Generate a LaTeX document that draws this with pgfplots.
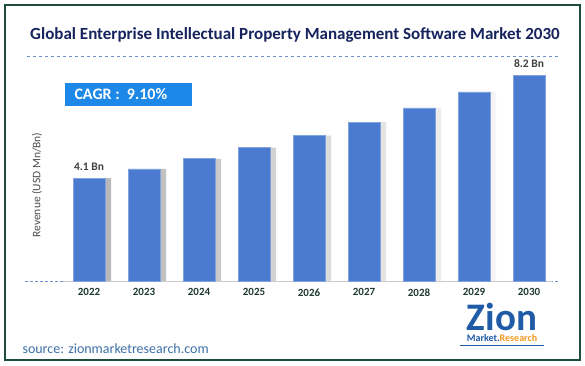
\documentclass[border=0pt]{standalone}
\usepackage{pgfplots}
\pgfplotsset{compat=1.18}
\usepackage{pgfplotstable}
\usepackage{fontspec}
\setmainfont{Carlito}
\definecolor{barblue}{HTML}{4A7BD0}
\definecolor{titlenavy}{HTML}{16235C}
\definecolor{yeargreen}{HTML}{1E3B2E}
\definecolor{framegreen}{HTML}{1F4D3A}
\definecolor{cagrblue}{HTML}{1E88E8}
\definecolor{dashblue}{HTML}{6F90D0}
\definecolor{srcblue}{HTML}{3C6FA8}
\definecolor{zionblue}{HTML}{1F5BA6}
\definecolor{zionorange}{HTML}{F39A1E}
\pgfplotstableread{
x year value
0 2022 4.10
1 2023 4.47
2 2024 4.87
3 2025 5.31
4 2026 5.79
5 2027 6.33
6 2028 6.90
7 2029 7.53
8 2030 8.20
}\revdata
\begin{document}
\begin{tikzpicture}[x=1pt,y=1pt]
\useasboundingbox (0,0) rectangle (585,365);
\fill[white] (0,0) rectangle (585,365);
\draw[framegreen, line width=1.4pt] (5,5) rectangle (580,360);
% title
\node[font=\fontsize{17}{20}\selectfont\bfseries, text=titlenavy] at (295,330) {Global Enterprise Intellectual Property Management Software Market 2030};
\draw[dashblue, dashed, line width=0.8pt] (27,309) -- (558,309);
% CAGR box
\fill[cagrblue] (65,259) rectangle (192,282);
\node[font=\fontsize{16}{18}\selectfont\bfseries, text=white, anchor=west] at (71,270.5) {CAGR :\ \ 9.10\%};
\begin{axis}[
  anchor=south west, at={(25pt,84pt)},
  x=55pt, y=25.1pt,
  xmin=-1.164, xmax=8.527, ymin=0, ymax=9.3,
  axis y line=none,
  axis x line*=bottom,
  x axis line style={draw=dashblue, dash pattern=on 3pt off 2pt, line width=0.8pt, -},
  xtick=data, xticklabels={2022,2023,2024,2025,2026,2027,2028,2029,2030},
  xtick style={draw=none},
  xticklabel style={font=\fontsize{11}{12}\selectfont\bfseries, text=yeargreen, yshift=-4pt},
  clip=false,
]
\addplot[ybar, bar width=7pt, bar shift=18.5pt, draw=none, left color=black!35, right color=white, opacity=0.8] table[x=x, y=value] {\revdata};
\draw[black!20, line width=0.8pt] (axis cs:-0.47,0) -- (axis cs:8.42,0);
\addplot[ybar, bar width=32pt, fill=barblue, draw=barblue!70!white, line width=0.6pt] table[x=x, y=value] {\revdata};
\node[font=\fontsize{11.5}{13}\selectfont\bfseries, text=black!75, anchor=south] at (axis cs:0,4.1) [yshift=4pt] {4.1 Bn};
\node[font=\fontsize{11.5}{13}\selectfont\bfseries, text=black!75, anchor=south] at (axis cs:8,8.2) [yshift=4pt] {8.2 Bn};
\node[rotate=90, font=\fontsize{11.5}{12}\selectfont, text=black!70] at (axis cs:-0.945,3.82) {Revenue (USD Mn/Bn)};
\end{axis}
% source
\node[font=\fontsize{14}{16}\selectfont, text=srcblue, anchor=west] at (19,16.5) {source: zionmarketresearch.com};
% logo
\node[font=\fontsize{39}{41}\selectfont\bfseries, text=zionblue, anchor=base, inner sep=0pt] at (502,35) {Zion};
\node[font=\fontsize{10}{11}\selectfont\bfseries, anchor=north, inner sep=0pt] at (502,31) {\textcolor{zionblue}{Market.}\textcolor{zionorange}{Research}};
\draw[zionblue, line width=0.6pt] (460,19.5) -- (544,19.5);
\end{tikzpicture}
\end{document}
